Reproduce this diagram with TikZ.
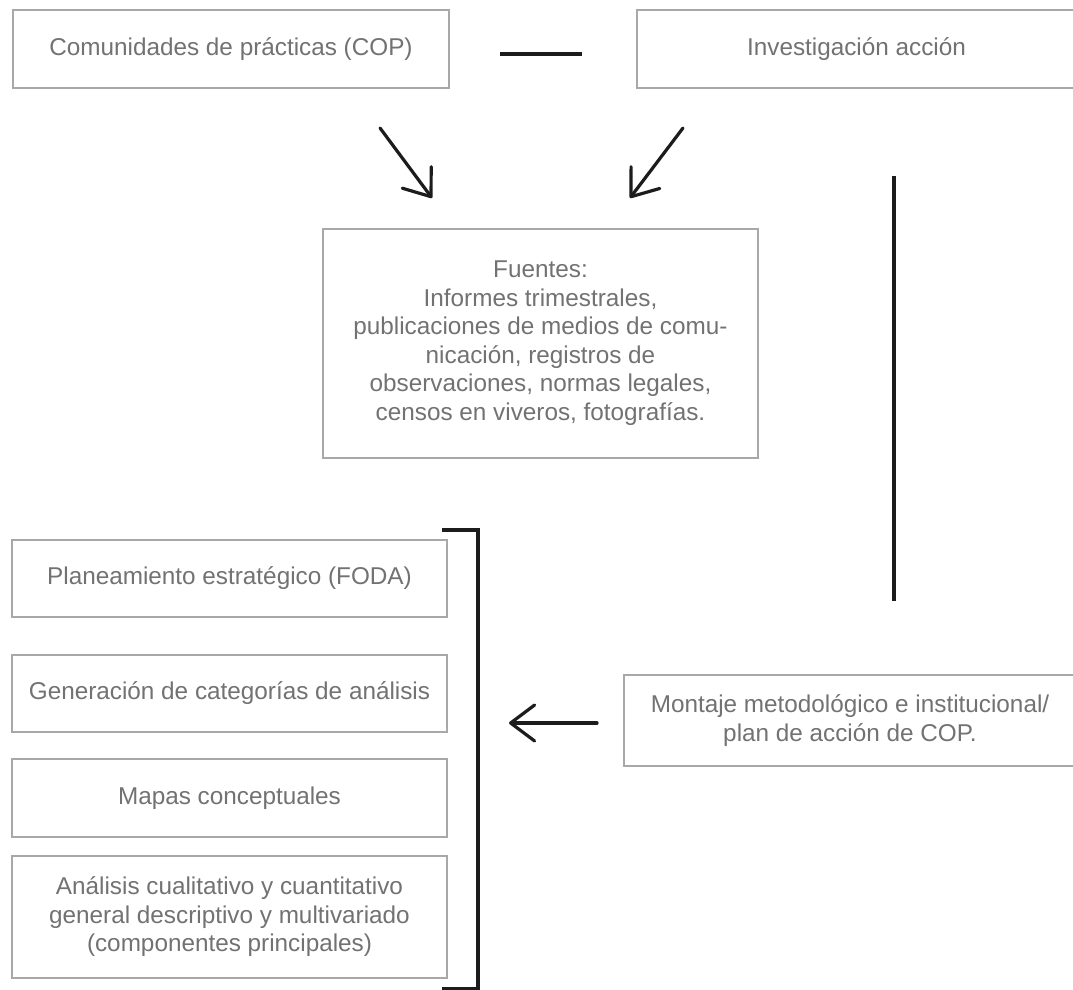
\documentclass[tikz,border=0pt]{standalone}
\usepackage{fontspec}
\setmainfont{Liberation Sans}
\usetikzlibrary{arrows.meta}
\definecolor{txtgray}{HTML}{727272}
\definecolor{boxgray}{HTML}{A8A8A8}
\definecolor{inkline}{HTML}{1C1C1C}
\begin{document}
\begin{tikzpicture}[x=1pt,y=-1pt,
  box/.style={draw=boxgray, line width=1.9pt, align=center, text=txtgray,
    font=\fontsize{24.3}{28.5}\selectfont, inner sep=0pt},
  link/.style={draw=inkline, line width=3.2pt},
  pointer/.style={link, line join=round, line cap=round,
    -{Straight Barb[length=24pt,width=36pt,line join=round,line cap=round]}}]
\useasboundingbox (0,0) rectangle (1073,990);
\fill[white] (0,0) rectangle (1073,990);

% top row
\node[box, minimum width=436pt, minimum height=78pt] (cop) at (231,49)
  {Comunidades de prácticas (COP)};
\node[box, minimum width=439pt, minimum height=78pt] (inv) at (856.5,49)
  {Investigación acción};

% sources
\node[box, minimum width=435pt, minimum height=229pt] (src) at (540.5,343.5)
  {\raisebox{6pt}{\begin{tabular}{@{}c@{}}Fuentes:\\ Informes trimestrales,\\
  publicaciones de medios de comu-\\ nicación, registros de\\
  observaciones, normas legales,\\ censos en viveros, fotografías.\end{tabular}}};

% methodological setup
\node[box, minimum width=452pt, minimum height=91pt] (mon) at (850,720.5)
  {Montaje metodológico e institucional/\\ plan de acción de COP.};

% analysis tools
\node[box, minimum width=435pt, minimum height=77pt] (foda) at (229.5,578.5)
  {Planeamiento estratégico (FODA)};
\node[box, minimum width=435pt, minimum height=77pt] (cat) at (229.5,693.5)
  {Generación de categorías de análisis};
\node[box, minimum width=435pt, minimum height=78pt] (map) at (229.5,798)
  {Mapas conceptuales};
\node[box, minimum width=435pt, minimum height=122pt] (ana) at (229.5,917)
  {Análisis cualitativo y cuantitativo\\ general descriptivo y multivariado\\
  (componentes principales)};

% free ends of the connectors
\coordinate (dashL) at (500,54);
\coordinate (dashR) at (582,54);
\coordinate (copArrS) at (380,128);
\coordinate (copArrE) at (432,198);
\coordinate (invArrS) at (683,128);
\coordinate (invArrE) at (630,198);
\coordinate (vTop) at (894,176);
\coordinate (vBot) at (894,601);
\coordinate (monArrS) at (597,723);
\coordinate (monArrE) at (509,723);
\coordinate (brTL) at (442,530);
\coordinate (brTR) at (478,530);
\coordinate (brBR) at (478,989);
\coordinate (brBL) at (442,989);

% connectors
\draw[link] (dashL) -- (dashR);
\draw[pointer] (copArrS) -- (copArrE);
\draw[pointer] (invArrS) -- (invArrE);
\draw[link] (vTop) -- (vBot);
\draw[pointer] (monArrS) -- (monArrE);
\draw[link] (brTL) -- (brTR) -- (brBR) -- (brBL);
\end{tikzpicture}
\end{document}
